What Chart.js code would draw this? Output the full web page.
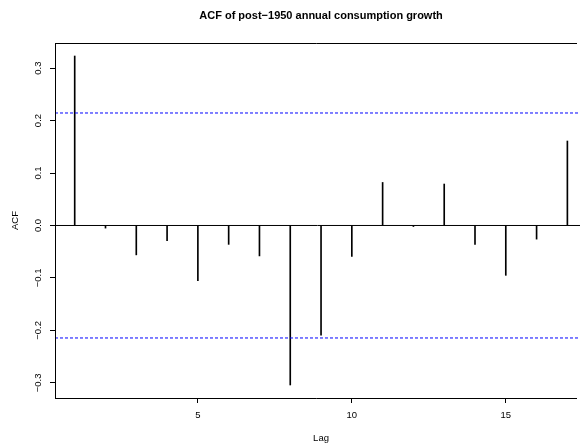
<!DOCTYPE html>
<html>
<head>
<meta charset="utf-8">
<script src="https://cdn.jsdelivr.net/npm/chart.js@4.4.1/dist/chart.umd.min.js"></script>
<style>
  html, body { margin: 0; padding: 0; background: #fff; overflow: hidden; }
</style>
</head>
<body>
<canvas id="acfChart" width="580" height="446"></canvas>
<script>
// ACF 데이터 (lag 1..17)
const lags = [1, 2, 3, 4, 5, 6, 7, 8, 9, 10, 11, 12, 13, 14, 15, 16, 17];
const acfValues = [0.323, -0.005, -0.056, -0.029, -0.105, -0.036, -0.058, -0.304, -0.209,
  -0.059, 0.082, -0.002, 0.079, -0.036, -0.095, -0.026, 0.161];
const confLimit = 0.2144; // 2 / sqrt(n)

// 축 설정
const xTicks = [5, 10, 15];
const yTicks = [-0.3, -0.2, -0.1, 0, 0.1, 0.2, 0.3];
// R's plot region runs to lag 17.64, the picture is cut at the right edge
const xRange = [0.36, 17.41];
const xCenter = 9; // middle of the full R plot region
const yRange = [-0.3288, 0.3478];

const TITLE = 'ACF of post\u22121950 annual consumption growth';
const X_LABEL = 'Lag';

const FONT = "'Liberation Sans', Arial, Helvetica, sans-serif";
Chart.defaults.font.family = FONT;
Chart.defaults.color = '#000';

function fmtTick(v) {
  const s = Math.abs(v).toFixed(1);
  return v < 0 ? '\u2212' + s : s;
}

// R 스타일: 박스, 회전된 y 눈금 라벨, 제목
const rAxisPlugin = {
  id: 'rAxis',
  afterDraw(chart) {
    const { ctx, chartArea: a, scales } = chart;
    ctx.save();
    ctx.strokeStyle = '#000';
    ctx.lineWidth = 1;
    ctx.setLineDash([]);
    const l = Math.round(a.left) + 0.5;
    const t = Math.round(a.top) + 0.5;
    const b = Math.round(a.bottom) + 0.5;
    const r = a.right - 3; // box continues past the cut edge
    ctx.beginPath();
    ctx.moveTo(r, t);
    ctx.lineTo(l, t);
    ctx.lineTo(l, b);
    ctx.lineTo(r, b);
    ctx.stroke();

    ctx.fillStyle = '#000';
    ctx.font = '9.5px ' + FONT;
    ctx.textAlign = 'center';
    ctx.textBaseline = 'middle';
    yTicks.forEach((v) => {
      const y = scales.y.getPixelForValue(v);
      ctx.save();
      ctx.translate(38.5, y);
      ctx.rotate(-Math.PI / 2);
      ctx.fillText(fmtTick(v), 0, 0);
      ctx.restore();
    });

    const cx = scales.x.getPixelForValue(xCenter);
    ctx.fillText(X_LABEL, cx, 438.3);
    ctx.font = 'bold 11px ' + FONT;
    ctx.fillText(TITLE, cx, 16);
    ctx.restore();
  },
};

const ctx = document.getElementById('acfChart');

new Chart(ctx.getContext('2d'), {
  type: 'bar',
  data: {
    datasets: [
      {
        type: 'bar',
        label: 'ACF',
        data: lags.map((lag, i) => ({ x: lag, y: acfValues[i] })),
        backgroundColor: '#000',
        borderWidth: 0,
        barThickness: 1,
        order: 1,
      },
      {
        type: 'line',
        label: 'zero',
        data: [{ x: xRange[0], y: 0 }, { x: xRange[1], y: 0 }],
        borderColor: '#000',
        borderWidth: 1,
        pointRadius: 0,
        order: 2,
      },
      {
        type: 'line',
        label: 'conf',
        data: [
          { x: xRange[0], y: confLimit }, { x: xRange[1], y: confLimit },
          { x: xRange[1], y: null },
          { x: xRange[0], y: -confLimit }, { x: xRange[1], y: -confLimit },
        ],
        borderColor: '#0000ff',
        borderWidth: 1,
        borderDash: [3, 2],
        pointRadius: 0,
        spanGaps: false,
        order: 0,
      },
    ],
  },
  options: {
    responsive: false,
    devicePixelRatio: 1,
    animation: false,
    layout: { padding: { left: 0, right: 0, top: 43, bottom: 0 } },
    plugins: {
      legend: { display: false },
      tooltip: { enabled: false },
      title: { display: false },
    },
    scales: {
      x: {
        type: 'linear',
        min: xRange[0],
        max: xRange[1],
        offset: false,
        afterBuildTicks: (scale) => {
          scale.ticks = xTicks.map((v) => ({ value: v }));
        },
        afterFit: (scale) => {
          scale.height = 48;
        },
        grid: {
          offset: false,
          drawOnChartArea: false,
          drawTicks: true,
          tickLength: 5,
          color: '#000',
        },
        border: { display: false },
        ticks: {
          padding: 7,
          maxRotation: 0,
          font: { size: 9.5 },
          callback: (v) => String(v),
        },
      },
      y: {
        type: 'linear',
        min: yRange[0],
        max: yRange[1],
        afterBuildTicks: (scale) => {
          scale.ticks = yTicks.map((v) => ({ value: v }));
        },
        afterFit: (scale) => {
          scale.width = 55;
        },
        grid: {
          drawOnChartArea: false,
          drawTicks: true,
          tickLength: 5,
          color: '#000',
        },
        border: { display: true, color: '#000', width: 1 },
        ticks: { display: false },
        title: {
          display: true,
          text: 'ACF',
          font: { size: 9.5 },
          padding: { top: 9.3, bottom: 0 },
        },
      },
    },
  },
  plugins: [rAxisPlugin],
});
</script>
</body>
</html>
